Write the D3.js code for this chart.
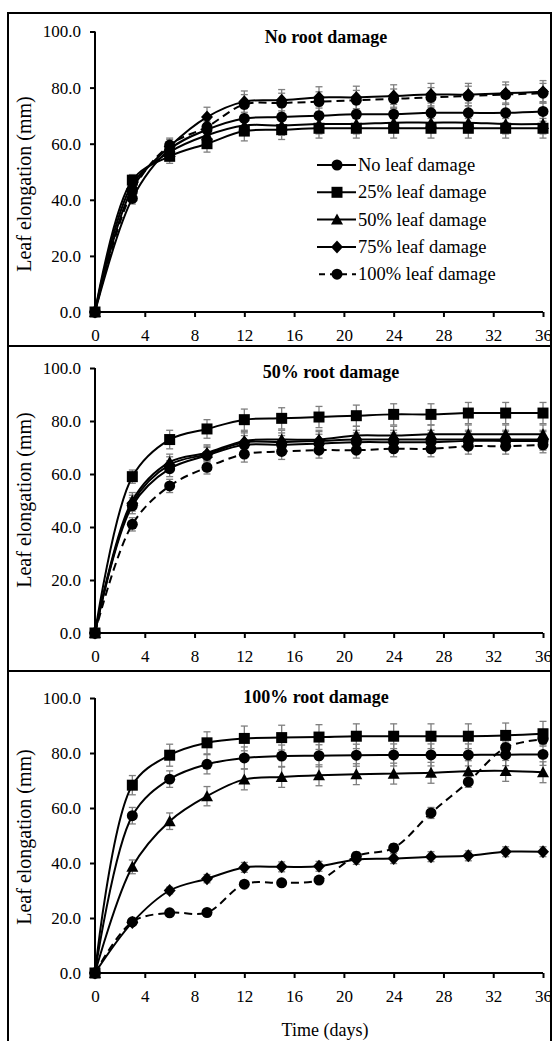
<!DOCTYPE html>
<html>
<head>
<meta charset="utf-8">
<script src="https://cdn.jsdelivr.net/npm/d3@7"></script>
<style>
  body { margin: 0; background: #fff; }
  text { font-family: "Liberation Serif", "Times New Roman", serif; fill: #000; }
</style>
</head>
<body>
<svg id="chart" width="552" height="1041"></svg>
<script>
// sampling days and ticks
var days = [0, 3, 6, 9, 12, 15, 18, 21, 24, 27, 30, 33, 36];
var xTicks = [0, 4, 8, 12, 16, 20, 24, 28, 32, 36];
var yTicks = [0, 20, 40, 60, 80, 100];

var titles = ["No root damage", "50% root damage", "100% root damage"];
var seriesNames = ["No leaf damage", "25% leaf damage", "50% leaf damage", "75% leaf damage", "100% leaf damage"];

// no root damage
var none1 = [0, 40.5, 58, 65, 69, 69.5, 70, 70.5, 70.5, 71, 71, 71, 71.5];
var p25_1 = [0, 47, 55.5, 60, 64.5, 65, 65.5, 65.5, 65.5, 65.5, 65.5, 65.5, 65.5];
var p50_1 = [0, 45.5, 57, 63, 66.5, 66.5, 67, 67, 67.5, 67.5, 67.5, 67, 67];
var p75_1 = [0, 44, 59, 69.5, 75, 75.5, 76.5, 76.5, 77, 77.5, 77.5, 78, 78.5];
var p100_1 = [0, 43, 59.5, 66, 74, 74.5, 75, 75.5, 76, 76.5, 77, 77.5, 78];
var se_none1 = [0, 2, 2.5, 3, 3.5, 3.5, 3.5, 3.5, 3.5, 3.5, 3.5, 3.5, 3.5];
var se_p25_1 = [0, 2, 2.5, 3, 3.5, 3.5, 3.5, 3.5, 3.5, 3.5, 3.5, 3.5, 3.5];
var se_p50_1 = [0, 2, 2.5, 3, 3.5, 3.5, 3.5, 3.5, 3.5, 3.5, 3.5, 3.5, 3.5];
var se_p75_1 = [0, 2, 2.5, 3.5, 3.8, 3.8, 3.8, 4, 4, 4, 4, 4, 4];
var se_p100_1 = [0, 2, 2.5, 3, 3.5, 3.5, 3.5, 3.5, 3.5, 3.5, 3.5, 3.5, 3.5];

// 50% root damage
var none2 = [0, 48, 62, 67, 71, 71, 71.5, 72, 72, 72, 72.5, 72.5, 72.5];
var p25_2 = [0, 59, 73, 77, 80.5, 81, 81.5, 82, 82.5, 82.5, 83, 83, 83];
var p50_2 = [0, 50, 64.5, 68, 72.5, 73, 73, 74.5, 74.5, 75, 75, 75, 75];
var p75_2 = [0, 49, 63.5, 67.5, 72, 72, 72.5, 73, 73, 73, 73, 73, 73];
var p100_2 = [0, 41, 55.5, 62.5, 67.5, 68.5, 69, 69, 69.5, 69.5, 70.5, 70.5, 71];
var se_none2 = [0, 3, 3, 3, 3.5, 3.5, 3.5, 3.5, 3.5, 3.5, 3.5, 3.5, 3.5];
var se_p25_2 = [0, 2.5, 3.5, 3.5, 4, 4, 4, 4, 4, 4, 4, 4, 4];
var se_p50_2 = [0, 3, 3, 3, 3.5, 3.5, 3.5, 3.5, 3.5, 3.5, 3.5, 3.5, 3.5];
var se_p75_2 = [0, 3, 3, 3, 3.5, 3.5, 3.5, 3.5, 3.5, 3.5, 3.5, 3.5, 3.5];
var se_p100_2 = [0, 2.5, 2.5, 2.5, 3, 3, 3, 3, 3, 3, 3, 3, 3];

// 100% root damage
var none3 = [0, 57.2, 70.5, 75.9, 78.2, 78.9, 79, 79.2, 79.3, 79.3, 79.3, 79.4, 79.5];
var p25_3 = [0, 68.3, 79.2, 83.7, 85.3, 85.6, 85.8, 86.1, 86.1, 86.1, 86.1, 86.4, 87];
var p50_3 = [0, 38.6, 55.2, 64.3, 70.4, 71.3, 71.9, 72.3, 72.5, 72.8, 73.4, 73.5, 73];
var p75_3 = [0, 18.4, 30, 34.3, 38.4, 38.6, 38.8, 41.3, 41.6, 42.3, 42.6, 44.1, 44.1];
var p100_3 = [0, 18.6, 21.9, 22, 32.3, 32.8, 33.8, 42.5, 45.5, 58.2, 69.5, 82, 85];
var se_none3 = [0, 3, 3, 3.5, 4, 4, 4, 4, 4, 4, 4, 4, 4];
var se_p25_3 = [0, 3.5, 4, 4, 4.5, 4.5, 4.5, 4.5, 4.5, 4.5, 4.5, 4.5, 4.5];
var se_p50_3 = [0, 2.5, 3, 3.5, 3.8, 3.8, 3.8, 3.8, 3.8, 3.8, 3.8, 3.8, 3.8];
var se_p75_3 = [0, 1, 1.2, 1.5, 1.8, 1.8, 1.8, 1.8, 1.8, 1.8, 1.8, 1.8, 1.8];
var se_p100_3 = [0, 1, 1, 1, 1, 1, 1, 1.5, 1.5, 2, 2, 2, 2];

var shapes = ["circle", "square", "triangle", "diamond", "circle"];
var dashed = [false, false, false, false, true];

var panels = [
  { title: titles[0], yTop: 31.5, yBottom: 312, titleX: 326, titleY: 43, labelY: 184,
    values: [none1, p25_1, p50_1, p75_1, p100_1],
    errors: [se_none1, se_p25_1, se_p50_1, se_p75_1, se_p100_1], legend: true },
  { title: titles[1], yTop: 368, yBottom: 633, titleX: 331, titleY: 378, labelY: 500,
    values: [none2, p25_2, p50_2, p75_2, p100_2],
    errors: [se_none2, se_p25_2, se_p50_2, se_p75_2, se_p100_2] },
  { title: titles[2], yTop: 698, yBottom: 973, titleX: 316, titleY: 703, labelY: 837,
    values: [none3, p25_3, p50_3, p75_3, p100_3],
    errors: [se_none3, se_p25_3, se_p50_3, se_p75_3, se_p100_3], xLabel: true }
];

var svg = d3.select("#chart");
svg.append("rect").attr("width", 552).attr("height", 1041).attr("fill", "#fff");

var x = d3.scaleLinear().domain([0, 36]).range([95, 543]);

function markerPath(shape) {
  if (shape == "circle") return d3.symbol(d3.symbolCircle, 95)();
  if (shape == "square") return "M-5.5,-5.5H5.5V5.5H-5.5Z";
  if (shape == "triangle") return "M0,-6L6,5H-6Z";
  return "M0,-6.5L6,0L0,6.5L-6,0Z";
}

// frame round the panels
var frame = svg.append("g").attr("stroke", "#000").attr("stroke-width", 2).attr("fill", "none");
frame.append("path").attr("d", "M8,1041V13H551V1041");
frame.append("line").attr("x1", 8).attr("x2", 551).attr("y1", 346).attr("y2", 346);
frame.append("line").attr("x1", 8).attr("x2", 551).attr("y1", 671).attr("y2", 671);

panels.forEach(function(p) {
  var y = d3.scaleLinear().domain([0, 100]).range([p.yBottom, p.yTop]);
  var g = svg.append("g");

  // axes
  var yAxis = g.append("g").attr("transform", "translate(" + x(0) + ",0)")
    .call(d3.axisLeft(y).tickValues(yTicks).tickSize(5).tickPadding(9).tickFormat(d3.format(".1f")));
  var xAxis = g.append("g").attr("transform", "translate(0," + y(0) + ")")
    .call(d3.axisBottom(x).tickValues(xTicks).tickSize(5).tickPadding(12));
  [yAxis, xAxis].forEach(function(a) {
    a.attr("font-family", null);
    a.select(".domain").attr("stroke-width", 2);
    a.selectAll(".tick line").attr("stroke-width", 2);
    a.selectAll("text").attr("font-size", 17);
  });
  yAxis.select(".domain").attr("d", "M0," + y(100) + "V" + y(0));
  xAxis.select(".domain").attr("d", "M" + x(0) + ",0H" + x(36));

  g.append("text")
    .attr("transform", "translate(31," + p.labelY + ") rotate(-90)")
    .attr("text-anchor", "middle").attr("font-size", 20)
    .text("Leaf elongation (mm)");

  g.append("text").attr("x", p.titleX).attr("y", p.titleY)
    .attr("text-anchor", "middle").attr("font-size", 18).attr("font-weight", "bold")
    .text(p.title);

  var line = d3.line().x(function(d, i) { return x(days[i]); }).y(function(d) { return y(d); })
    .curve(d3.curveCatmullRom);

  // error bars first, then lines and markers on top
  p.values.forEach(function(vals, s) {
    var eb = g.append("g").attr("stroke", "#7f7f7f").attr("stroke-width", 1.3);
    vals.forEach(function(v, i) {
      var e = p.errors[s][i];
      if (!e) return;
      var cx = x(days[i]);
      eb.append("line").attr("x1", cx).attr("x2", cx).attr("y1", y(v - e)).attr("y2", y(v + e));
      eb.append("line").attr("x1", cx - 3.5).attr("x2", cx + 3.5).attr("y1", y(v + e)).attr("y2", y(v + e));
      eb.append("line").attr("x1", cx - 3.5).attr("x2", cx + 3.5).attr("y1", y(v - e)).attr("y2", y(v - e));
    });
  });

  p.values.forEach(function(vals, s) {
    g.append("path").attr("d", line(vals)).attr("fill", "none").attr("stroke", "#000")
      .attr("stroke-width", 2).attr("stroke-dasharray", dashed[s] ? "8,5" : null);
    g.selectAll(null).data(vals).enter().append("path")
      .attr("d", markerPath(shapes[s]))
      .attr("transform", function(d, i) { return "translate(" + x(days[i]) + "," + y(d) + ")"; })
      .attr("fill", "#000");
  });

  if (p.legend) {
    var lg = g.append("g");
    seriesNames.forEach(function(name, s) {
      var ly = 165 + s * 27.3;
      lg.append("line").attr("x1", 317).attr("x2", 356).attr("y1", ly).attr("y2", ly)
        .attr("stroke", "#000").attr("stroke-width", 2)
        .attr("stroke-dasharray", dashed[s] ? "6,5" : null)
        .attr("stroke-dashoffset", dashed[s] ? -2 : 0);
      lg.append("path").attr("d", markerPath(shapes[s]))
        .attr("transform", "translate(337," + ly + ")").attr("fill", "#000");
      lg.append("text").attr("x", 358).attr("y", ly + 6).attr("font-size", 18.5).text(name);
    });
  }

  if (p.xLabel) {
    g.append("text").attr("x", 325).attr("y", 1036).attr("text-anchor", "middle")
      .attr("font-size", 18).text("Time (days)");
  }
});
</script>
</body>
</html>
